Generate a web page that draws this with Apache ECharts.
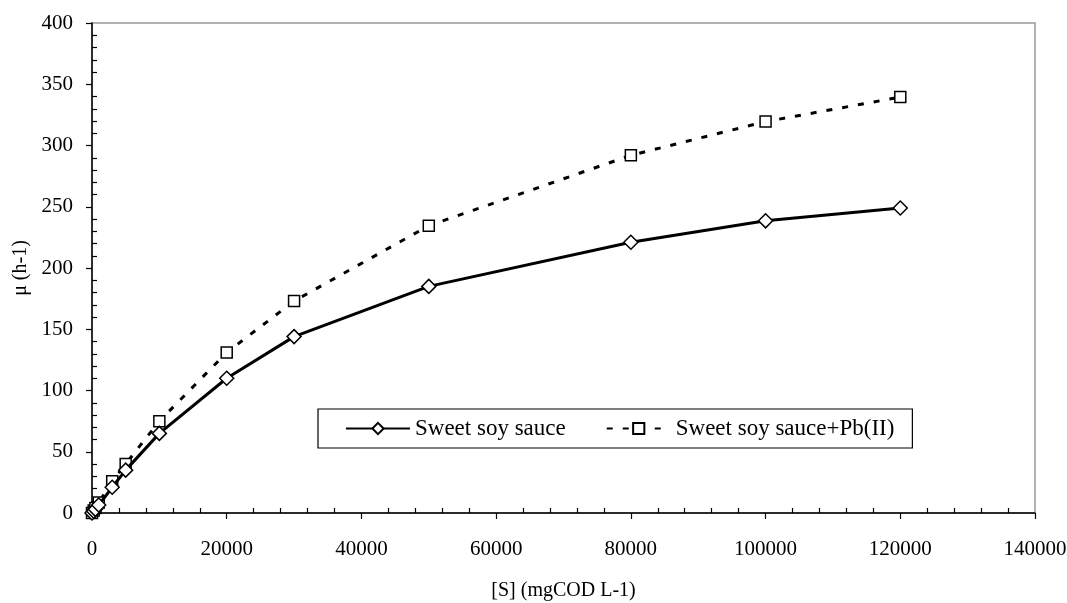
<!DOCTYPE html>
<html>
<head>
<meta charset="utf-8">
<script src="https://cdn.jsdelivr.net/npm/echarts@6/dist/echarts.min.js"></script>
<style>
html,body{margin:0;padding:0;background:#fff;}
#chart{width:1067px;height:603px;}
</style>
</head>
<body>
<div id="chart"></div>
<script>
var seriesNames = ['Sweet soy sauce', 'Sweet soy sauce+Pb(II)'];
var sweetX = [0, 250, 500, 1000, 3000, 5000, 10000, 20000, 30000, 50000, 80000, 100000, 120000];
var sweetY = [0, 1.5, 3, 6.5, 21, 35, 65, 110, 144, 185, 221, 238.5, 249];
var pbX = [0, 250, 500, 1000, 3000, 5000, 10000, 20000, 30000, 50000, 80000, 100000, 120000];
var pbY = [0, 2, 4, 8.5, 26, 40, 75, 131, 173, 234.5, 292, 319.5, 339.5];
var xTicks = {min: 0, max: 140000, interval: 20000};
var yTicks = {min: 0, max: 400, interval: 50};

function pairs(xs, ys){ return xs.map(function(x,i){ return [x, ys[i]]; }); }

var font = 'Liberation Serif';
var chart = echarts.init(document.getElementById('chart'), null, {renderer:'canvas'});

function baseX(primary){
  return {
    type:'value', min:xTicks.min, max:xTicks.max, interval:xTicks.interval,
    position:'bottom',
    name: primary ? '[S] (mgCOD L-1)' : '',
    nameLocation:'middle', nameGap:68,
    nameTextStyle:{fontFamily:font, fontSize:20, color:'#000'},
    axisLine:{show:primary, onZero:false, lineStyle:{color:'#000', width:1.5}},
    axisTick:{show:primary, inside:!primary, length:6, lineStyle:{color:'#000', width:1.2}},
    minorTick:{show:!primary, splitNumber:5, length:5, lineStyle:{color:'#000', width:1.2}},
    axisLabel:{show:primary, margin:26, fontFamily:font, fontSize:21, color:'#000',
      formatter:function(v){ return String(v); }},
    splitLine:{show:false}
  };
}
function baseY(primary){
  return {
    type:'value', min:yTicks.min, max:yTicks.max, interval:yTicks.interval,
    position:'left',
    name: primary ? 'μ (h-1)' : '',
    nameLocation:'middle', nameGap:48,
    nameTextStyle:{fontFamily:font, fontSize:20, color:'#000'},
    axisLine:{show:primary, onZero:false, lineStyle:{color:'#000', width:1.5}},
    axisTick:{show:primary, inside:!primary, length:6, lineStyle:{color:'#000', width:1.2}},
    minorTick:{show:!primary, splitNumber:5, length:5, lineStyle:{color:'#000', width:1.2}},
    axisLabel:{show:primary, margin:19, fontFamily:font, fontSize:21, color:'#000'},
    splitLine:{show:false}
  };
}

var option = {
  backgroundColor:'#fff',
  animation:false,
  grid:{left:92, right:32, top:23, bottom:90, containLabel:false, outerBoundsMode:'none',
        show:true, borderColor:'#999', borderWidth:1.5, backgroundColor:'transparent'},
  xAxis:[baseX(false), baseX(true)],
  yAxis:[baseY(false), baseY(true)],
  legend:{
    left:318, top:409,
    orient:'horizontal',
    data:seriesNames,
    itemWidth:64, itemHeight:14, itemGap:40,
    padding:[8, 18, 8, 27],
    borderColor:'#000', borderWidth:1.2,
    backgroundColor:'#fff',
    textStyle:{fontFamily:font, fontSize:23, color:'#000', padding:[0,0,0,0]}
  },
  series:[
    {
      name:seriesNames[0], type:'line', xAxisIndex:1, yAxisIndex:1,
      data:pairs(sweetX, sweetY),
      symbol:'diamond', symbolSize:14, showAllSymbol:true,
      lineStyle:{color:'#000', width:3, type:'solid'},
      itemStyle:{color:'#fff', borderColor:'#000', borderWidth:1.5},
      z:3
    },
    {
      name:seriesNames[1], type:'line', xAxisIndex:1, yAxisIndex:1,
      data:pairs(pbX, pbY),
      symbol:'rect', symbolSize:11, showAllSymbol:true,
      lineStyle:{color:'#000', width:3, type:[6,10]},
      itemStyle:{color:'#fff', borderColor:'#000', borderWidth:1.5},
      z:2
    }
  ]
};
chart.setOption(option);
</script>
</body>
</html>
